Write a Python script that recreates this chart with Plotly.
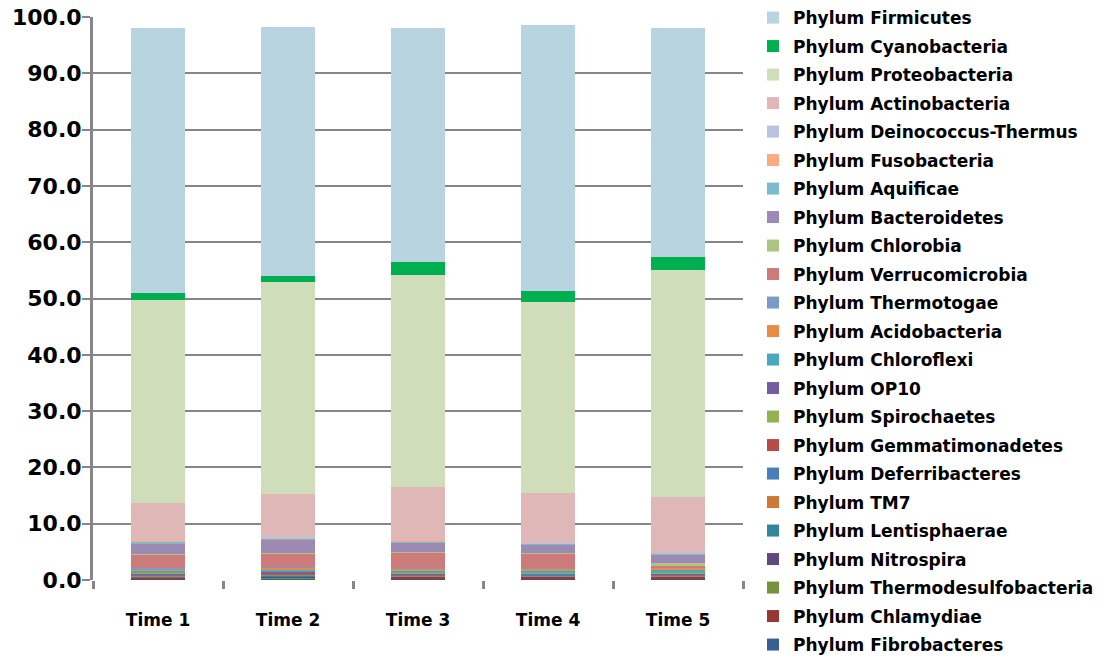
import plotly.graph_objects as go

times = ["Time 1", "Time 2", "Time 3", "Time 4", "Time 5"]

# Phyla listed bottom of the stack first
phyla = [
    "Phylum Fibrobacteres",
    "Phylum Chlamydiae",
    "Phylum Thermodesulfobacteria",
    "Phylum Nitrospira",
    "Phylum Lentisphaerae",
    "Phylum TM7",
    "Phylum Deferribacteres",
    "Phylum Gemmatimonadetes",
    "Phylum Spirochaetes",
    "Phylum OP10",
    "Phylum Chloroflexi",
    "Phylum Acidobacteria",
    "Phylum Thermotogae",
    "Phylum Verrucomicrobia",
    "Phylum Chlorobia",
    "Phylum Bacteroidetes",
    "Phylum Aquificae",
    "Phylum Fusobacteria",
    "Phylum Deinococcus-Thermus",
    "Phylum Actinobacteria",
    "Phylum Proteobacteria",
    "Phylum Cyanobacteria",
    "Phylum Firmicutes",
]

# Relative abundance (%) per phylum, Time 1..5
fibrobacteres        = [0.15, 0.20, 0.15, 0.15, 0.10]
chlamydiae           = [0.10, 0.15, 0.10, 0.10, 0.15]
thermodesulfobacteria = [0.05, 0.15, 0.10, 0.05, 0.10]
nitrospira           = [0.20, 0.20, 0.20, 0.25, 0.20]
lentisphaerae        = [0.15, 0.10, 0.15, 0.15, 0.10]
tm7                  = [0.10, 0.20, 0.10, 0.10, 0.15]
deferribacteres      = [0.30, 0.20, 0.25, 0.30, 0.10]
gemmatimonadetes     = [0.10, 0.10, 0.10, 0.10, 0.25]
spirochaetes         = [0.10, 0.10, 0.10, 0.05, 0.15]
op10                 = [0.10, 0.10, 0.10, 0.10, 0.10]
chloroflexi          = [0.30, 0.20, 0.30, 0.30, 0.35]
acidobacteria        = [0.30, 0.50, 0.35, 0.35, 0.45]
thermotogae          = [0.20, 0.10, 0.20, 0.15, 0.10]
verrucomicrobia      = [2.40, 2.40, 2.60, 2.50, 0.35]
chlorobia            = [0.10, 0.15, 0.10, 0.10, 0.35]
bacteroidetes        = [1.90, 2.40, 1.70, 1.60, 1.60]
aquificae            = [0.30, 0.15, 0.25, 0.10, 0.05]
fusobacteria         = [0.10, 0.10, 0.10, 0.10, 0.20]
deinococcus_thermus  = [0.05, 0.35, 0.05, 0.05, 0.30]
actinobacteria       = [6.70, 7.45, 9.50, 8.80, 9.55]
proteobacteria       = [36.0, 37.7, 37.7, 34.0, 40.4]
cyanobacteria        = [1.20, 1.00, 2.30, 1.90, 2.30]
firmicutes           = [47.1, 44.2, 41.5, 47.3, 40.6]

series = [
    fibrobacteres, chlamydiae, thermodesulfobacteria, nitrospira, lentisphaerae,
    tm7, deferribacteres, gemmatimonadetes, spirochaetes, op10, chloroflexi,
    acidobacteria, thermotogae, verrucomicrobia, chlorobia, bacteroidetes,
    aquificae, fusobacteria, deinococcus_thermus, actinobacteria,
    proteobacteria, cyanobacteria, firmicutes,
]

colors = [
    "#376092", "#953735", "#76923C", "#604A7B", "#31869B",
    "#CB7838", "#4A7EBB", "#B94A48", "#94B154", "#775BA0", "#4BA7BF",
    "#EA8B45", "#7B9AC8", "#CC7A7A", "#AEC483", "#9C8AB4",
    "#7BBACF", "#F9AD7F", "#B7C3DF", "#E0B7B7",
    "#CFDDBA", "#00B050", "#B7D4E0",
]

fig = go.Figure()
n = len(phyla)
for i, (name, vals, col) in enumerate(zip(phyla, series, colors)):
    # top-of-stack phyla are listed first in the legend
    fig.add_trace(go.Bar(
        x=times, y=vals, name=name, legendgroup=name, legendrank=n - i,
        marker=dict(color=col, line=dict(width=0)),
    ))

axis_grey = "#868686"
font_family = "DejaVu Sans"

fig.update_layout(
    width=1109, height=659,
    margin=dict(l=93, r=366, t=17, b=79, autoexpand=False),
    barmode="stack", bargap=0.59,
    plot_bgcolor="white", paper_bgcolor="white",
    showlegend=True,
    legend=dict(
        traceorder="grouped",
        xref="container", x=0.679, xanchor="left",
        yref="container", y=1.0, yanchor="top",
        maxheight=700,
        font=dict(family=font_family, size=17, color="#000000", weight="bold"),
        tracegroupgap=3.4, bgcolor="rgba(0,0,0,0)",
    ),
    xaxis=dict(
        showline=False, showgrid=False, tickson="boundaries",
        ticks="outside", ticklen=8, tickwidth=3, tickcolor=axis_grey,
        tickfont=dict(family=font_family, size=17, color="#000000", weight="bold"),
        ticklabelstandoff=28,
    ),
    yaxis=dict(
        range=[0, 100], dtick=10, tickformat=".1f",
        showline=True, linecolor=axis_grey, linewidth=3,
        showgrid=True, gridcolor=axis_grey, gridwidth=2,
        ticks="outside", ticklen=8, tickwidth=2, tickcolor=axis_grey,
        tickfont=dict(family=font_family, size=22, color="#000000", weight="bold"),
        ticklabelstandoff=-4, zeroline=False,
    ),
)

fig.write_html("out.html")
